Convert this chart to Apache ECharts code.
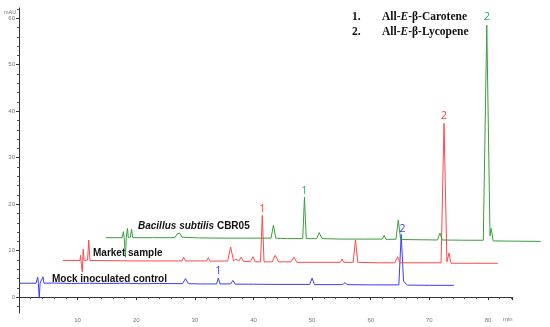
<!DOCTYPE html>
<html>
<head>
<meta charset="utf-8">
<script src="https://cdn.jsdelivr.net/npm/echarts@6/dist/echarts.min.js"></script>
<style>
  html, body { margin: 0; padding: 0; background: #fff; }
  #chart { width: 550px; height: 327px; }
</style>
</head>
<body>
<div id="chart"></div>
<script>
// retention time (min) and absorbance (mAU)
const blueTrace = [
  [0, 3.0], [2.9, 3.0], [3.1, 3.3], [3.2, 4.3], [3.3, 3.0], [3.45, -0.2], [3.6, 3.0], [3.9, 3.1], [4.1, 4.4], [4.25, 3.0],
  [6, 3.05], [9, 2.95], [12, 3.0], [15, 2.95], [18, 3.0], [21, 2.9], [24, 2.95], [27.9, 2.9], [28.4, 4.0], [28.9, 2.9],
  [31, 2.85], [33.7, 2.85], [34.0, 4.1], [34.3, 2.85], [36.1, 2.85], [36.5, 3.6], [36.9, 2.8], [39.2, 2.8], [39.5, 3.1], [39.8, 2.8],
  [44, 2.75], [49.6, 2.75], [50.0, 4.1], [50.4, 2.7], [55.2, 2.7], [55.6, 3.1], [56.0, 2.7], [60, 2.65],
  [64.8, 2.65], [65.2, 13.5], [65.6, 3.4], [65.9, 3.8], [66.3, 2.6], [70, 2.55], [74.2, 2.55]
];
const redTrace = [
  [0, 7.9], [2.9, 7.9], [3.0, 9.0], [3.15, 7.0], [3.3, 5.4], [3.45, 10.3], [3.6, 7.9], [4.2, 8.0], [4.4, 12.3], [4.6, 7.9],
  [8, 7.85], [12, 7.8], [16, 7.8], [20.3, 7.8], [20.6, 8.6], [20.9, 7.8], [24.5, 7.8], [24.8, 8.5], [25.1, 7.75],
  [28.1, 7.8], [28.6, 10.8], [29.1, 7.8], [29.5, 8.2], [30.0, 7.8], [30.4, 8.6], [30.8, 7.7], [32.0, 7.7], [32.4, 8.7], [32.8, 7.6],
  [33.7, 7.6], [34.0, 17.6], [34.3, 7.6], [35.7, 7.6], [36.2, 9.0], [36.8, 7.6], [38.9, 7.6], [39.4, 8.6], [39.9, 7.5],
  [43, 7.5], [47.3, 7.5], [47.6, 8.2], [47.9, 7.5], [49.5, 7.5], [49.9, 12.3], [50.3, 7.5], [54, 7.4],
  [56.6, 7.4], [57.1, 8.7], [57.5, 7.4], [62, 7.4], [64.5, 7.4], [65.0, 37.4], [65.5, 7.6], [65.85, 9.5], [66.2, 7.3],
  [70, 7.3], [74.2, 7.3]
];
const greenTrace = [
  [0, 12.8], [2.8, 12.8], [3.0, 14.1], [3.15, 12.8], [3.35, 8.6], [3.5, 12.8], [3.7, 14.8], [3.85, 12.8], [4.2, 12.9], [4.4, 14.6], [4.6, 12.8],
  [8, 12.8], [11.8, 12.8], [12.2, 13.6], [12.6, 13.8], [13.0, 12.9], [16, 12.75], [20, 12.7], [24, 12.7],
  [28.2, 12.7], [28.6, 15.5], [29.0, 12.7], [31, 12.6], [33.6, 12.6], [33.9, 21.5], [34.2, 12.6], [36.0, 12.6], [36.4, 13.9], [36.9, 12.6],
  [40, 12.5], [44, 12.5], [47.2, 12.5], [47.5, 13.3], [47.8, 12.45], [49.5, 12.45], [49.9, 16.6], [50.3, 12.4],
  [54, 12.35], [56.6, 12.3], [57.0, 13.8], [57.4, 12.3], [62, 12.25], [64.4, 12.25], [65.0, 58.5], [65.55, 13.2], [65.75, 14.8], [66.1, 12.1],
  [70, 12.05], [74.2, 12.0]
];
const traceNames = ["Mock inoculated control", "Market sample", "Bacillus subtilis CBR05"];
const traceShift = [0, 7.5, 14.8];   // stacked-plot time offset (min)
const traceColors = ["#3b3bff", "#ff4848", "#3a9e3a"];
const labelColors = ["#3b3bff", "#ff3b3b", "#1fb070"];
// peak labels: [trace, label, time, mAU at label]
const peakLabels = [
  [0, "1", 34.0, 5.6], [0, "2", 65.4, 14.6],
  [1, "1", 34.0, 19.1], [1, "2", 65.0, 38.9],
  [2, "1", 33.9, 22.8], [2, "2", 65.0, 60.4]
];
const xTicks = [10, 20, 30, 40, 50, 60, 70, 80];
const yTicks = [0, 10, 20, 30, 40, 50, 60];
const yMinorTicks = [-2, 2, 4, 6, 8, 12, 14, 16, 18, 22, 24, 26, 28, 32, 34, 36, 38, 42, 44, 46, 48, 52, 54, 56, 58, 62];

const chart = echarts.init(document.getElementById("chart"));
const traces = [blueTrace, redTrace, greenTrace];

// traces live on a wider hidden grid so the shifted green trace can run past the axis end
const series = traces.map((tr, i) => ({
  name: traceNames[i],
  type: "line",
  xAxisIndex: 1,
  yAxisIndex: 2,
  data: tr.map(p => [p[0] + traceShift[i], p[1]]),
  symbol: "none",
  lineStyle: { color: traceColors[i], width: 1 },
  markPoint: {
    symbol: "circle",
    symbolSize: 0,
    silent: true,
    label: {
      show: true,
      position: "inside",
      formatter: p => p.name,
      color: labelColors[i],
      fontFamily: "Open Sans",
      fontSize: 11
    },
    data: peakLabels.filter(l => l[0] === i).map(l => ({
      name: l[1],
      coord: [l[2] + traceShift[i], l[3]]
    }))
  }
}));

const tickText = { color: "#777", fontSize: 6, fontFamily: "Liberation Sans" };
const nameFont = { fontFamily: "Liberation Sans", fontSize: 10, fontWeight: "bold", fill: "#111" };
const legFont = { fontFamily: "Liberation Serif", fontSize: 11.5, fontWeight: "bold", fill: "#111" };

chart.setOption({
  animation: false,
  grid: [
    { left: 19, right: 38, top: 8, bottom: 14 },
    { left: 19, right: 6, top: 8, bottom: 14 }
  ],
  xAxis: [
    {
      type: "value",
      gridIndex: 0,
      min: 0,
      max: 84.1,
      interval: 10,
      axisLine: { lineStyle: { color: "#333", width: 1 } },
      axisTick: { length: 3, lineStyle: { color: "#333" } },
      minorTick: { show: true, splitNumber: 5, length: 2, lineStyle: { color: "#555" } },
      axisLabel: { customValues: xTicks, margin: 4, ...tickText },
      splitLine: { show: false }
    },
    {
      type: "value",
      gridIndex: 1,
      min: 0,
      max: 89.56,
      show: false
    }
  ],
  yAxis: [
    {
      type: "value",
      gridIndex: 0,
      min: -3.4,
      max: 62.2,
      axisLine: { show: true, lineStyle: { color: "#333", width: 1 } },
      axisTick: { show: true, customValues: yTicks, length: 3, lineStyle: { color: "#333" } },
      axisLabel: { customValues: yTicks, margin: 4, ...tickText },
      splitLine: { show: false }
    },
    {
      type: "value",
      gridIndex: 0,
      position: "left",
      min: -3.4,
      max: 62.2,
      axisLine: { show: false },
      axisTick: { show: true, customValues: yMinorTicks, length: 2, lineStyle: { color: "#555" } },
      axisLabel: { show: false },
      splitLine: { show: false }
    },
    {
      type: "value",
      gridIndex: 1,
      min: -3.4,
      max: 62.2,
      show: false
    }
  ],
  series: series,
  graphic: [
    { type: "text", x: 4, y: 12, style: { text: "mAU", fill: "#777", fontSize: 5.5, fontFamily: "Liberation Sans", verticalAlign: "middle" } },
    { type: "text", x: 503, y: 319, style: { text: "min", fill: "#777", fontSize: 6, fontFamily: "Liberation Sans", verticalAlign: "middle" } },
    { type: "text", x: 52, y: 279, style: { text: traceNames[0], ...nameFont, verticalAlign: "middle" } },
    { type: "text", x: 93, y: 253, style: { text: traceNames[1], ...nameFont, verticalAlign: "middle" } },
    {
      type: "text", x: 138, y: 226,
      style: {
        text: "{i|Bacillus subtilis} {n|CBR05}",
        verticalAlign: "middle",
        ...nameFont,
        rich: {
          i: { ...nameFont, fontStyle: "italic" },
          n: { ...nameFont }
        }
      }
    },
    { type: "text", x: 352, y: 17, style: { text: "1.", ...legFont, verticalAlign: "middle" } },
    { type: "text", x: 352, y: 32, style: { text: "2.", ...legFont, verticalAlign: "middle" } },
    {
      type: "text", x: 382, y: 17,
      style: {
        text: "{b|All-}{e|E}{b|-β-Carotene}",
        verticalAlign: "middle",
        ...legFont,
        rich: { b: { ...legFont }, e: { ...legFont, fontStyle: "italic" } }
      }
    },
    {
      type: "text", x: 382, y: 32,
      style: {
        text: "{b|All-}{e|E}{b|-β-Lycopene}",
        verticalAlign: "middle",
        ...legFont,
        rich: { b: { ...legFont }, e: { ...legFont, fontStyle: "italic" } }
      }
    }
  ]
});
</script>
</body>
</html>
